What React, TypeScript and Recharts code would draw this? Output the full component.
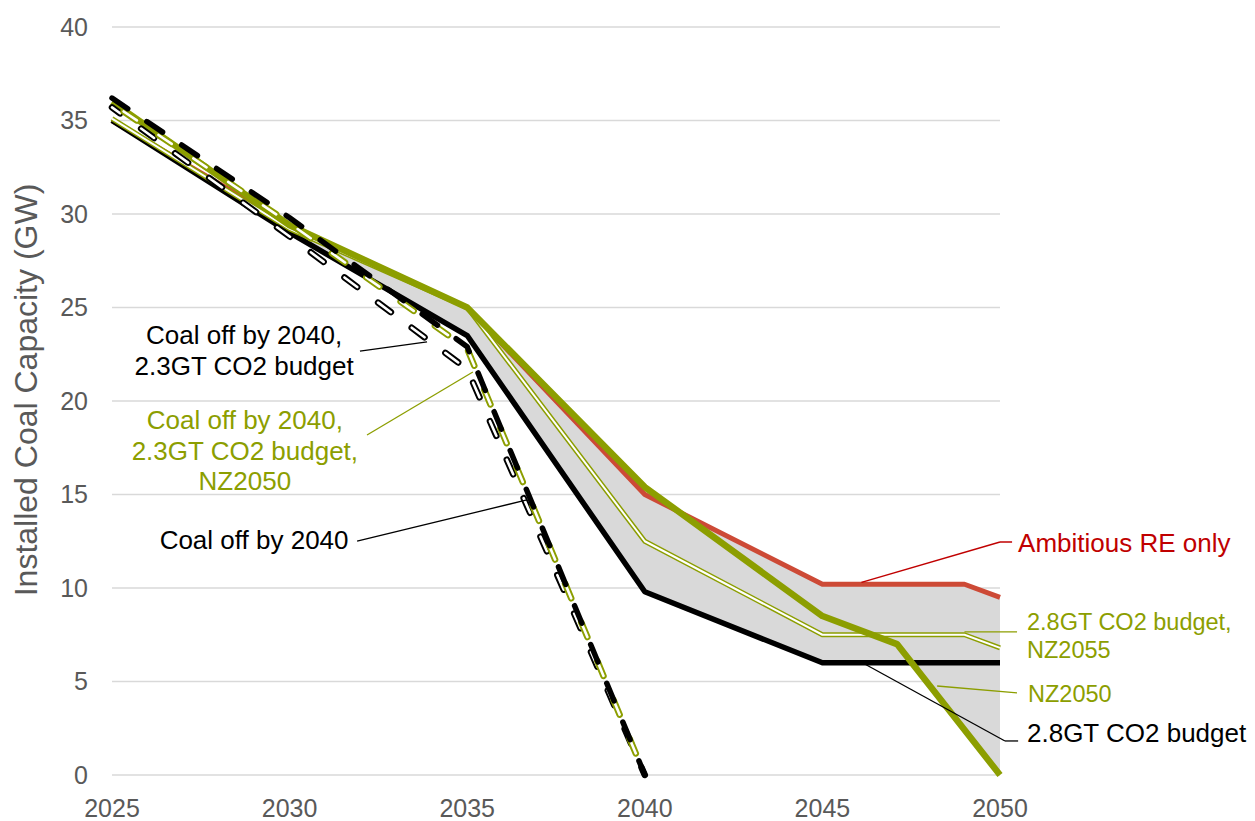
import React from 'react';
import {
  ComposedChart,
  Line,
  Area,
  XAxis,
  YAxis,
  CartesianGrid,
  ReferenceLine,
  ReferenceDot,
} from 'recharts';

type Pt = { x: number; y: number };
const pts = (rows: number[][]): Pt[] => rows.map(([x, y]) => ({ x, y }));

// Axis ticks
const yearTicks = [2025, 2030, 2035, 2040, 2045, 2050];
const capacityTicks = [0, 5, 10, 15, 20, 25, 30, 35, 40];

// Scenario trajectories: [year, installed coal capacity in GW]
const ambitiousRE = pts([[2025, 35.0], [2030, 29.4], [2035, 25.0], [2040, 15.0], [2045, 10.2], [2049, 10.2], [2050, 9.5]]);
const budget28 = pts([[2025, 35.0], [2030, 29.0], [2035, 23.5], [2040, 9.8], [2045, 6.0], [2050, 6.0]]);
const nz2050 = pts([[2025, 36.0], [2030, 29.4], [2035, 25.0], [2040, 15.4], [2045, 8.5], [2047.1, 7.0], [2050, 0]]);
const budget28nz2055 = pts([[2025, 35.1], [2030, 29.2], [2035, 25.0], [2040, 12.5], [2045, 7.5], [2049, 7.5], [2050, 6.8]]);
const coalOff2040 = pts([[2025, 36.2], [2030, 29.8], [2035, 22.9], [2040, 0]]);
const coalOff2040b23 = pts([[2025, 35.7], [2030, 28.8], [2035, 21.7], [2040, 0]]);
const coalOff2040b23nz = pts([[2025, 35.9], [2030, 29.5], [2035, 22.8], [2040, 0]]);

// Shaded range spanned by the continuous scenarios, from the year they start to diverge
const rangeSeries = [ambitiousRE, budget28, nz2050, budget28nz2055];
const rangeStartYear = 2030;

function valueAt(s: Pt[], x: number): number {
  if (x <= s[0].x) return s[0].y;
  for (let i = 0; i < s.length - 1; i++) {
    const a = s[i];
    const b = s[i + 1];
    if (x >= a.x && x <= b.x) return a.y + ((b.y - a.y) * (x - a.x)) / (b.x - a.x);
  }
  return s[s.length - 1].y;
}

function buildRange(series: Pt[][], start: number) {
  const base = Array.from(new Set(series.flatMap((s) => s.map((p) => p.x))))
    .filter((x) => x >= start)
    .sort((a, b) => a - b);
  const xs = [...base];
  for (let k = 0; k < base.length - 1; k++) {
    const a = base[k];
    const b = base[k + 1];
    for (let i = 0; i < series.length; i++) {
      for (let j = i + 1; j < series.length; j++) {
        const da = valueAt(series[i], a) - valueAt(series[j], a);
        const db = valueAt(series[i], b) - valueAt(series[j], b);
        if (da * db < 0) xs.push(a + (da / (da - db)) * (b - a));
      }
    }
  }
  xs.sort((a, b) => a - b);
  return xs.map((x) => {
    const vals = series.map((s) => valueAt(s, x));
    return { x, range: [Math.min(...vals), Math.max(...vals)] };
  });
}

const rangeData = buildRange(rangeSeries, rangeStartYear);

const FONT = '"Liberation Sans", Arial, Helvetica, sans-serif';
const OLIVE = '#8C9E00';
const RED_LINE = '#CD4A36';
const RED_TEXT = '#C00000';
const AXIS_TEXT = '#595959';

const note =
  (lines: string[], color: string, anchor: 'start' | 'middle', gap: number, size = 26) =>
  (p: any) => (
    <text x={p.cx} y={p.cy} fill={color} fontSize={size} fontFamily={FONT} textAnchor={anchor}>
      {lines.map((l, i) => (
        <tspan key={i} x={p.cx} dy={i === 0 ? 0 : gap}>
          {l}
        </tspan>
      ))}
    </text>
  );

const common = {
  dataKey: 'y',
  dot: false,
  activeDot: false,
  isAnimationActive: false,
  type: 'linear' as const,
  strokeLinejoin: 'round' as const,
  legendType: 'none' as const,
};

const YTitle = (props: any) => {
  const vb = props.viewBox || { x: 0, y: 27, width: 112, height: 748 };
  const cx = vb.x + 37;
  const cy = vb.y + vb.height / 2 - 11;
  return (
    <text
      x={cx}
      y={cy}
      transform={`rotate(-90 ${cx} ${cy})`}
      textAnchor="middle"
      fill={AXIS_TEXT}
      fontSize={32}
      fontFamily={FONT}
    >
      Installed Coal Capacity (GW)
    </text>
  );
};

export default function App() {
  return (
    <div style={{ position: 'absolute', left: 0, top: 0, width: 1255, height: 821, background: '#fff' }}>
      <ComposedChart width={1255} height={821} margin={{ top: 27, right: 255, bottom: 0, left: 0 }}>
        <CartesianGrid vertical={false} stroke="#D9D9D9" strokeWidth={1.5} />
        <XAxis
          dataKey="x"
          type="number"
          domain={[2025, 2050]}
          ticks={yearTicks}
          axisLine={false}
          tickLine={false}
          height={46}
          tickMargin={18}
          tick={{ fill: AXIS_TEXT, fontSize: 25, fontFamily: FONT }}
        />
        <YAxis
          type="number"
          domain={[0, 40]}
          ticks={capacityTicks}
          axisLine={false}
          tickLine={false}
          width={112}
          tickMargin={18}
          tick={{ fill: AXIS_TEXT, fontSize: 25, fontFamily: FONT }}
          label={{ content: <YTitle /> }}
        />

        <Area
          data={rangeData}
          dataKey="range"
          type="linear"
          fill="#D9D9D9"
          fillOpacity={1}
          stroke="none"
          isAnimationActive={false}
          activeDot={false}
          legendType="none"
        />

        <Line {...common} data={ambitiousRE} stroke={RED_LINE} strokeWidth={5} />
        <Line {...common} data={budget28} stroke="#000" strokeWidth={5.5} />
        <Line {...common} data={budget28nz2055} stroke={OLIVE} strokeWidth={5} />
        <Line {...common} data={budget28nz2055} stroke="#fff" strokeWidth={2} />
        <Line {...common} data={nz2050} stroke={OLIVE} strokeWidth={6.5} />

        <Line {...common} data={coalOff2040b23} stroke="#000" strokeWidth={6.5} strokeDasharray="16 26" strokeLinecap="round" strokeDashoffset={6} />
        <Line {...common} data={coalOff2040b23} stroke="#fff" strokeWidth={2.6} strokeDasharray="16 26" strokeLinecap="round" strokeDashoffset={6} />
        <Line {...common} data={coalOff2040b23nz} stroke={OLIVE} strokeWidth={6.5} strokeDasharray="16 26" strokeLinecap="round" strokeDashoffset={-14} />
        <Line {...common} data={coalOff2040b23nz} stroke="#fff" strokeWidth={2.6} strokeDasharray="16 26" strokeLinecap="round" strokeDashoffset={-14} />
        <Line {...common} data={coalOff2040} stroke="#000" strokeWidth={5.5} strokeDasharray="19 23" strokeLinecap="round" />

        {/* Leader lines */}
        <ReferenceLine ifOverflow="visible" stroke={RED_TEXT} strokeWidth={1.5} segment={[{ x: 2046.1, y: 10.3 }, { x: 2050, y: 12.46 }]} />
        <ReferenceLine ifOverflow="visible" stroke={RED_TEXT} strokeWidth={1.5} segment={[{ x: 2050, y: 12.46 }, { x: 2050.34, y: 12.46 }]} />
        <ReferenceLine ifOverflow="visible" stroke={OLIVE} strokeWidth={1.3} segment={[{ x: 2049.0, y: 7.65 }, { x: 2050.48, y: 7.65 }]} />
        <ReferenceLine ifOverflow="visible" stroke={OLIVE} strokeWidth={1.3} segment={[{ x: 2048.23, y: 4.76 }, { x: 2050.48, y: 4.39 }]} />
        <ReferenceLine ifOverflow="visible" stroke="#000" strokeWidth={1.3} segment={[{ x: 2046.14, y: 5.99 }, { x: 2050.14, y: 1.82 }]} />
        <ReferenceLine ifOverflow="visible" stroke="#000" strokeWidth={1.3} segment={[{ x: 2050.14, y: 1.82 }, { x: 2050.51, y: 1.82 }]} />
        <ReferenceLine ifOverflow="visible" stroke="#000" strokeWidth={1.3} segment={[{ x: 2031.98, y: 22.67 }, { x: 2033.87, y: 23.16 }]} />
        <ReferenceLine ifOverflow="visible" stroke={OLIVE} strokeWidth={1.3} segment={[{ x: 2032.18, y: 18.18 }, { x: 2035.16, y: 21.55 }]} />
        <ReferenceLine ifOverflow="visible" stroke="#000" strokeWidth={1.3} segment={[{ x: 2031.9, y: 12.51 }, { x: 2036.68, y: 14.71 }]} />

        {/* Series labels */}
        <ReferenceDot ifOverflow="visible" x={2028.72} y={23.05} r={1} shape={note(['Coal off by 2040,', '2.3GT CO2 budget'], '#000', 'middle', 31)} />
        <ReferenceDot ifOverflow="visible" x={2028.74} y={18.5} r={1} shape={note(['Coal off by 2040,', '2.3GT CO2 budget,', 'NZ2050'], OLIVE, 'middle', 30.5)} />
        <ReferenceDot ifOverflow="visible" x={2029.0} y={12.09} r={1} shape={note(['Coal off by 2040'], '#000', 'middle', 0)} />
        <ReferenceDot ifOverflow="visible" x={2050.51} y={11.93} r={1} shape={note(['Ambitious RE only'], RED_TEXT, 'start', 0)} />
        <ReferenceDot ifOverflow="visible" x={2050.76} y={7.75} r={1} shape={note(['2.8GT CO2 budget,', 'NZ2055'], OLIVE, 'start', 28, 23.5)} />
        <ReferenceDot ifOverflow="visible" x={2050.79} y={3.9} r={1} shape={note(['NZ2050'], OLIVE, 'start', 0, 23.5)} />
        <ReferenceDot ifOverflow="visible" x={2050.76} y={1.76} r={1} shape={note(['2.8GT CO2 budget'], '#000', 'start', 0)} />
      </ComposedChart>
    </div>
  );
}
